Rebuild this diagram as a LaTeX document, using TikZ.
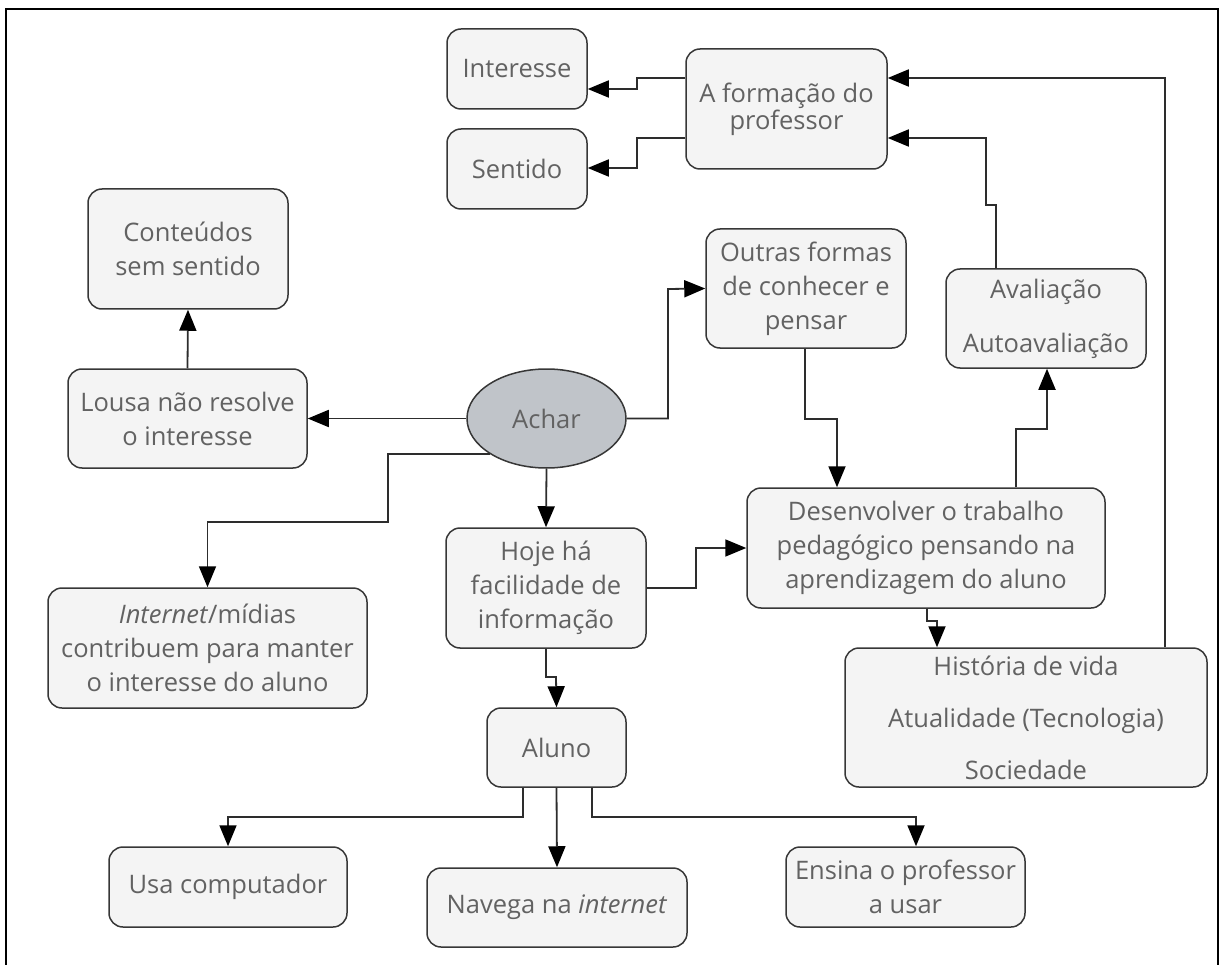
\documentclass[tikz,border=0pt]{standalone}
\usepackage{fontspec}
\setmainfont{Open Sans}
\usetikzlibrary{arrows.meta,shapes.geometric}
\definecolor{boxfill}{RGB}{244,244,244}
\definecolor{boxdraw}{RGB}{55,55,55}
\definecolor{txt}{RGB}{98,98,98}
\definecolor{ellfill}{RGB}{192,196,201}
\definecolor{wire}{RGB}{45,45,45}
\begin{document}
\begin{tikzpicture}[x=1pt,y=-1pt,
  box/.style={rectangle, rounded corners=14pt, draw=boxdraw, fill=boxfill, line width=1.5pt,
    text=txt, align=center, inner sep=0pt, font=\fontsize{25.5}{34}\selectfont},
  arr/.style={draw=wire, line width=1.8pt, -{Triangle[length=21pt,width=17pt,color=black]}}]
\useasboundingbox (0,0) rectangle (1220,965);
\draw[line width=2pt, black] (6,965) -- (6,9) -- (1218,9) -- (1218,965);

\node[box, minimum width=140pt, minimum height=80pt] (int) at (517,69) {Interesse};
\node[box, minimum width=140pt, minimum height=80pt] (sen) at (517,169) {Sentido};
\node[box, minimum width=201pt, minimum height=120pt, font=\fontsize{25.5}{27}\selectfont] (form) at (786.5,109) {A formação do\\professor};
\node[box, minimum width=200pt, minimum height=120pt] (cont) at (188,249) {Conteúdos\\sem sentido};
\node[box, minimum width=239pt, minimum height=99pt] (lousa) at (187.5,418.5) {Lousa não resolve\\o interesse};
\node[ellipse, draw=boxdraw, fill=ellfill, line width=1.5pt, text=txt, inner sep=0pt,
  minimum width=159pt, minimum height=99pt, font=\fontsize{25.5}{34}\selectfont] (achar) at (546.5,418.5) {Achar};
\node[box, minimum width=200pt, minimum height=119pt] (outras) at (806,288.5) {Outras formas\\de conhecer e\\pensar};
\node[box, minimum width=200pt, minimum height=99pt] (aval) at (1046,318.5) {Avaliação\\[20pt]Autoavaliação};
\node[box, minimum width=358pt, minimum height=120pt] (desen) at (926,548) {Desenvolver o trabalho\\pedagógico pensando na\\aprendizagem do aluno};
\node[box, minimum width=319pt, minimum height=120pt] (inet) at (207.5,648) {\textit{Internet}/mídias\\contribuem para manter\\o interesse do aluno};
\node[box, minimum width=200pt, minimum height=120pt] (hoje) at (546,588) {Hoje há\\facilidade de\\informação};
\node[box, minimum width=139pt, minimum height=79pt] (aluno) at (556.5,747.5) {Aluno};
\node[box, minimum width=362pt, minimum height=139pt] (hist) at (1026,717.5) {História de vida\\[18pt]Atualidade (Tecnologia)\\[18pt]Sociedade};
\node[box, minimum width=238pt, minimum height=80pt] (usa) at (228,887) {Usa computador};
\node[box, minimum width=260pt, minimum height=79pt] (nav) at (557,907.5) {Navega na \textit{internet}};
\node[box, minimum width=239pt, minimum height=80pt] (ens) at (905.5,887) {Ensina o professor\\a usar};

\draw[arr] (form.west |- 0,78) -| (637,89) -- (int.east |- 0,89);
\draw[arr] (form.west |- 0,138) -| (637,168) -- (sen.east |- 0,168);
\draw[arr] (hist.north -| 1165,0) |- (form.east |- 0,78);
\draw[arr] (aval.north -| 996,0) |- (986,205) |- (form.east |- 0,138);
\draw[arr] (desen.north -| 1016,0) |- (1047,429) -- (aval.south -| 1047,0);
\draw[arr] (outras.south -| 805,0) |- (837,419) -- (desen.north -| 837,0);
\draw[arr] (achar.east) -| (668,289) -- (outras.west);
\draw[arr] (achar.west) -- (lousa.east);
\draw[arr] (lousa.north) -- (cont.south);
\draw[arr] (achar.212.6) -| (388,522) -| (inet.north);
\draw[arr] (achar.south) -- (hoje.north);
\draw[arr] (hoje.east) -| (696,548) -- (desen.west);
\draw[arr] (hoje.south) |- (556,677) -- (aluno.north);
\draw[arr] (desen.south -| 927,0) |- (937,621) -- (hist.north -| 937,0);
\draw[arr] (aluno.south -| 523,0) |- (228,817) -- (usa.north);
\draw[arr] (aluno.south) -- (nav.north);
\draw[arr] (aluno.south -| 592,0) |- (916,817) -- (ens.north -| 916,0);
\end{tikzpicture}
\end{document}
